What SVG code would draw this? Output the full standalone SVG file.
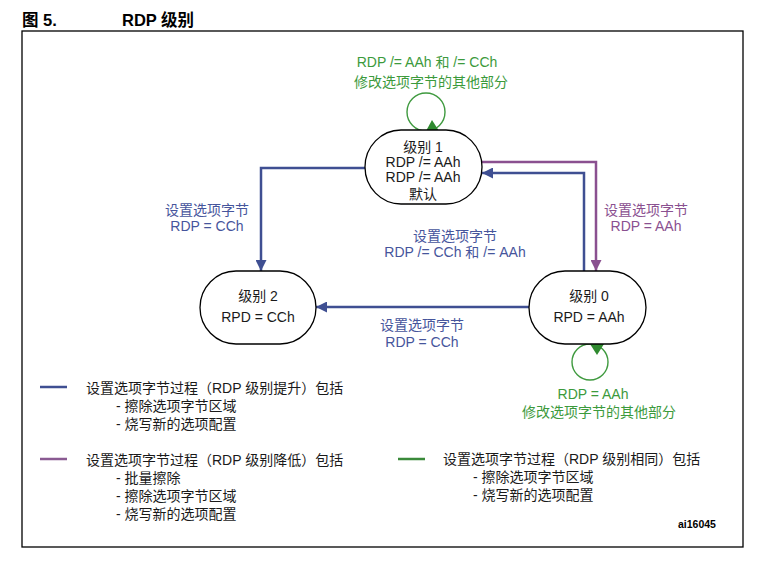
<svg xmlns="http://www.w3.org/2000/svg" width="778" height="566" viewBox="0 0 778 566">
<style>
text{font-family:"Liberation Sans","Noto Sans CJK SC",sans-serif;font-size:14px}
.c{text-anchor:middle}
.node{fill:#fff;stroke:#000;stroke-width:1.3}
.blue{fill:none;stroke:#3f4f92;stroke-width:2.5}
.purple{fill:none;stroke:#8a5090;stroke-width:2.5}
.loop{fill:none;stroke:#3f9a3f;stroke-width:1.4}
.tb{fill:#46559c}
.tp{fill:#8a5090}
.tg{fill:#3c9a3c}
.tk{fill:#1a1a1a}
.title{font-size:16.5px;font-weight:bold;fill:#000}
</style>
<defs>
<marker id="ab" viewBox="0 0 10 10" refX="10" refY="5" markerWidth="11" markerHeight="11" markerUnits="userSpaceOnUse" orient="auto"><path d="M0,0 L10,5 L0,10 z" fill="#3f4f92"/></marker>
<marker id="ap" viewBox="0 0 10 10" refX="10" refY="5" markerWidth="11" markerHeight="11" markerUnits="userSpaceOnUse" orient="auto"><path d="M0,0 L10,5 L0,10 z" fill="#8a5090"/></marker>
</defs>
<rect width="778" height="566" fill="#fff"/>
<text class="title" x="22" y="26">图 5.</text>
<text class="title" x="122" y="26">RDP 级别</text>
<rect x="22" y="31" width="721" height="516" fill="none" stroke="#000" stroke-width="1.3"/>

<g id="connectors">
<path class="blue" d="M365,168 H261 V271" marker-end="url(#ab)"/>
<path class="blue" d="M529,307 H316" marker-end="url(#ab)"/>
<path class="blue" d="M584,271 V173 H482" marker-end="url(#ab)"/>
<path class="purple" d="M481,162 H596 V271" marker-end="url(#ap)"/>
<circle class="loop" cx="426" cy="112" r="19"/>
<polygon points="432,120 426,131 439,131" fill="#2f8a2f"/>
<circle class="loop" cx="590" cy="362" r="18"/>
<polygon points="597,355 590,344 604,344" fill="#2f8a2f"/>
</g>

<g id="labels">
<text class="c tg" x="427" y="67">RDP /= AAh 和 /= CCh</text>
<text class="c tg" x="431" y="87">修改选项字节的其他部分</text>
<text class="c tb" x="207" y="215">设置选项字节</text>
<text class="c tb" x="207" y="231">RDP = CCh</text>
<text class="c tb" x="455" y="241">设置选项字节</text>
<text class="c tb" x="455" y="257">RDP /= CCh 和 /= AAh</text>
<text class="c tp" x="646" y="215">设置选项字节</text>
<text class="c tp" x="646" y="231">RDP = AAh</text>
<text class="c tb" x="422" y="330">设置选项字节</text>
<text class="c tb" x="422" y="347">RDP = CCh</text>
<text class="c tg" x="593" y="399">RDP = AAh</text>
<text class="c tg" x="599" y="417">修改选项字节的其他部分</text>
</g>

<g id="level1">
<rect class="node" x="365" y="130" width="117" height="74" rx="36" ry="37"/>
<text class="c tk" x="423" y="152">级别 1</text>
<text class="c tk" x="423" y="167">RDP /= AAh</text>
<text class="c tk" x="423" y="182">RDP /= AAh</text>
<text class="c tk" x="423" y="199">默认</text>
</g>
<g id="level2">
<rect class="node" x="200" y="271" width="116" height="73" rx="36" ry="36.5"/>
<text class="c tk" x="258" y="301">级别 2</text>
<text class="c tk" x="258" y="322">RPD = CCh</text>
</g>
<g id="level0">
<rect class="node" x="529" y="271" width="117" height="73" rx="36" ry="36.5"/>
<text class="c tk" x="589" y="301">级别 0</text>
<text class="c tk" x="589" y="322">RPD = AAh</text>
</g>

<g id="legend">
<line x1="40" y1="387" x2="67" y2="387" stroke="#3f4f92" stroke-width="2.5"/>
<text class="tk" x="86" y="393">设置选项字节过程（RDP 级别提升）包括</text>
<text class="tk" x="116" y="411">- 擦除选项字节区域</text>
<text class="tk" x="116" y="429">- 烧写新的选项配置</text>
<line x1="40" y1="459" x2="67" y2="459" stroke="#8a5a92" stroke-width="2.5"/>
<text class="tk" x="86" y="465">设置选项字节过程（RDP 级别降低）包括</text>
<text class="tk" x="116" y="483">- 批量擦除</text>
<text class="tk" x="116" y="501">- 擦除选项字节区域</text>
<text class="tk" x="116" y="519">- 烧写新的选项配置</text>
<line x1="398" y1="459" x2="425" y2="459" stroke="#3a8a3a" stroke-width="2.5"/>
<text class="tk" x="443" y="464">设置选项字节过程（RDP 级别相同）包括</text>
<text class="tk" x="473" y="482">- 擦除选项字节区域</text>
<text class="tk" x="473" y="500">- 烧写新的选项配置</text>
<text x="678" y="528" style="font-size:10.5px;font-weight:bold;fill:#000">ai16045</text>
</g>
</svg>
